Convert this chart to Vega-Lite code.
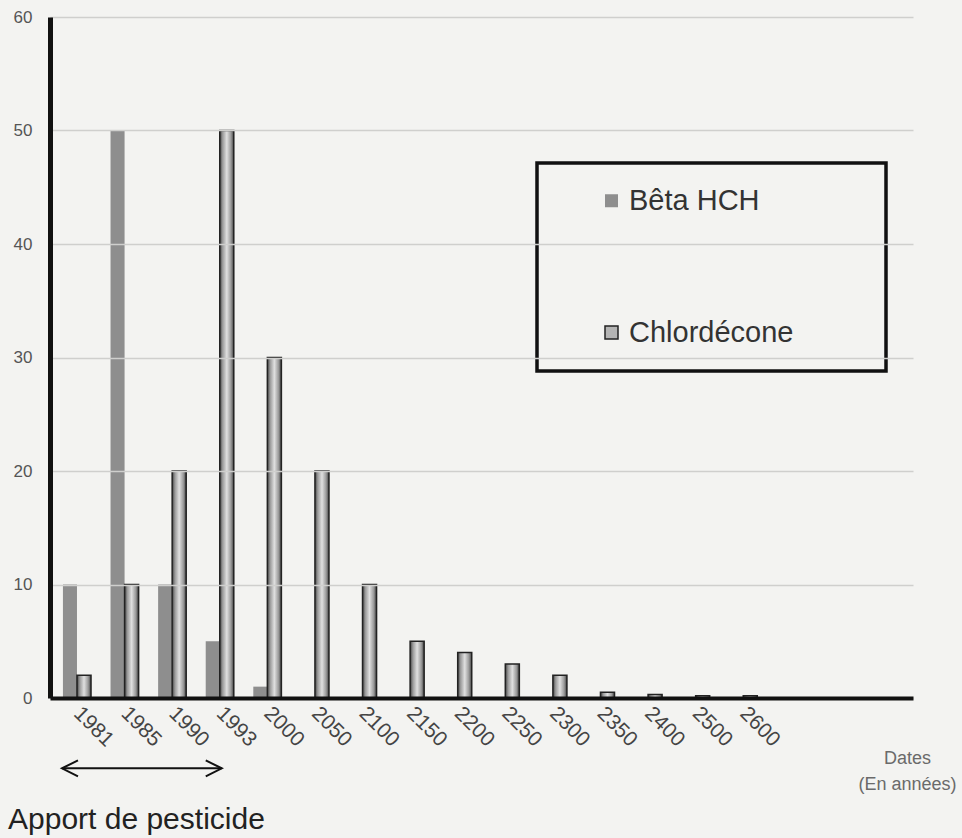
{
  "$schema": "https://vega.github.io/schema/vega-lite/v6.json",
  "width": 863,
  "height": 681,
  "autosize": "none",
  "padding": {"left": 50, "top": 17, "right": 49, "bottom": 140},
  "background": "#f3f3f1",
  "config": {"view": {"stroke": null}, "font": "Liberation Sans"},
  "title": {
    "text": "Apport de pesticide",
    "orient": "bottom",
    "anchor": "start",
    "frame": "group",
    "fontSize": 30,
    "fontWeight": "normal",
    "font": "Liberation Sans",
    "color": "#222222",
    "dx": -42,
    "offset": 12
  },
  "datasets": {
    "bars": [
      {"date": "1981", "series": "Bêta HCH", "value": 10},
      {"date": "1985", "series": "Bêta HCH", "value": 50},
      {"date": "1990", "series": "Bêta HCH", "value": 10},
      {"date": "1993", "series": "Bêta HCH", "value": 5},
      {"date": "2000", "series": "Bêta HCH", "value": 1},
      {"date": "1981", "series": "Chlordécone", "value": 2},
      {"date": "1985", "series": "Chlordécone", "value": 10},
      {"date": "1990", "series": "Chlordécone", "value": 20},
      {"date": "1993", "series": "Chlordécone", "value": 50},
      {"date": "2000", "series": "Chlordécone", "value": 30},
      {"date": "2050", "series": "Chlordécone", "value": 20},
      {"date": "2100", "series": "Chlordécone", "value": 10},
      {"date": "2150", "series": "Chlordécone", "value": 5},
      {"date": "2200", "series": "Chlordécone", "value": 4},
      {"date": "2250", "series": "Chlordécone", "value": 3},
      {"date": "2300", "series": "Chlordécone", "value": 2},
      {"date": "2350", "series": "Chlordécone", "value": 0.5},
      {"date": "2400", "series": "Chlordécone", "value": 0.3},
      {"date": "2500", "series": "Chlordécone", "value": 0.2},
      {"date": "2600", "series": "Chlordécone", "value": 0.2}
    ],
    "arrow": [
      {"start": "1981", "end": "1993", "level": -6.2}
    ]
  },
  "layer": [
    {
      "data": {"name": "bars"},
      "transform": [{"filter": "datum.series === 'Bêta HCH'"}],
      "mark": {"type": "bar"},
      "encoding": {
        "x": {
          "field": "date",
          "type": "nominal",
          "sort": null,
          "scale": {
            "domain": ["1981","1985","1990","1993","2000","2050","2100","2150","2200","2250","2300","2350","2400","2500","2600"," ","  ","   "],
            "paddingInner": 0.41,
            "paddingOuter": 0.272
          },
          "axis": {
            "title": ["Dates", "(En années)"],
            "titleX": 857,
            "titleY": 51,
            "titleAlign": "center",
            "titleBaseline": "top",
            "titleFontSize": 18,
            "titleFontWeight": "normal",
            "titleColor": "#6a6a6a",
            "titleLineHeight": 26,
            "labelAngle": 45,
            "labelAlign": "left",
            "labelBaseline": "middle",
            "labelFontSize": 21,
            "labelColor": "#444444",
            "labelPadding": 12,
            "ticks": false,
            "domainColor": "#111111",
            "domainWidth": 4,
            "zindex": 2
          }
        },
        "xOffset": {
          "field": "series",
          "type": "nominal",
          "scale": {"domain": ["Bêta HCH", "Chlordécone"]}
        },
        "y": {
          "field": "value",
          "type": "quantitative",
          "scale": {"domain": [0, 60], "nice": false},
          "axis": {
            "title": null,
            "values": [0, 10, 20, 30, 40, 50, 60],
            "grid": true,
            "gridColor": "#cfcfcd",
            "gridWidth": 1.5,
            "ticks": false,
            "domainColor": "#111111",
            "domainWidth": 5,
            "labelFontSize": 17,
            "labelColor": "#555555",
            "labelPadding": 18,
            "zindex": 2
          }
        },
        "color": {
          "field": "series",
          "type": "nominal",
          "scale": {"domain": ["Bêta HCH", "Chlordécone", " ", "  "], "range": ["#8e8e8e", "#b4b4b4", "transparent", "transparent"]},
          "legend": {
            "title": null,
            "orient": "none",
            "legendX": 487,
            "legendY": 146,
            "padding": 23,
            "strokeColor": "#111111",
            "columns": 2,
            "columnPadding": -4,
            "symbolType": "square",
            "symbolSize": 169,
            "symbolOffset": 37,
            "labelFontSize": 29,
            "labelColor": "#333333",
            "labelOffset": 3,
            "labelLimit": 500,
            "rowPadding": 102,
            "encode": {
              "legend": {
                "update": {
                  "strokeWidth": {"value": 3.5}
                }
              },
              "symbols": {
                "update": {
                  "stroke": {"signal": "datum.value === 'Chlordécone' ? '#222222' : 'transparent'"},
                  "strokeWidth": {"value": 1.5}
                }
              }
            }
          }
        }
      }
    },
    {
      "data": {"name": "bars"},
      "transform": [{"filter": "datum.series === 'Chlordécone'"}],
      "mark": {
        "type": "bar",
        "fill": {
          "gradient": "linear",
          "x1": 0, "y1": 0, "x2": 1, "y2": 0,
          "stops": [
            {"offset": 0, "color": "#444444"},
            {"offset": 0.2, "color": "#9a9a9a"},
            {"offset": 0.5, "color": "#e0e0e0"},
            {"offset": 0.8, "color": "#9a9a9a"},
            {"offset": 1, "color": "#444444"}
          ]
        },
        "stroke": "#222222",
        "strokeWidth": 1.5
      },
      "encoding": {
        "x": {"field": "date", "type": "nominal", "sort": null},
        "xOffset": {"field": "series", "type": "nominal"},
        "y": {"field": "value", "type": "quantitative"}
      }
    },
    {
      "data": {"name": "arrow"},
      "mark": {"type": "rule", "color": "#111111", "strokeWidth": 2, "xOffset": -15, "x2Offset": 2},
      "encoding": {
        "x": {"field": "start", "type": "nominal"},
        "x2": {"field": "end"},
        "y": {"field": "level", "type": "quantitative"}
      }
    },
    {
      "data": {"name": "arrow"},
      "mark": {"type": "point", "shape": "M1,-0.5L0,0L1,0.5", "filled": false, "size": 1024, "color": "#111111", "strokeWidth": 2, "opacity": 1, "xOffset": -15},
      "encoding": {
        "x": {"field": "start", "type": "nominal"},
        "y": {"field": "level", "type": "quantitative"}
      }
    },
    {
      "data": {"name": "arrow"},
      "mark": {"type": "point", "shape": "M-1,-0.5L0,0L-1,0.5", "filled": false, "size": 1024, "color": "#111111", "strokeWidth": 2, "opacity": 1, "xOffset": 2},
      "encoding": {
        "x": {"field": "end", "type": "nominal"},
        "y": {"field": "level", "type": "quantitative"}
      }
    }
  ]
}
